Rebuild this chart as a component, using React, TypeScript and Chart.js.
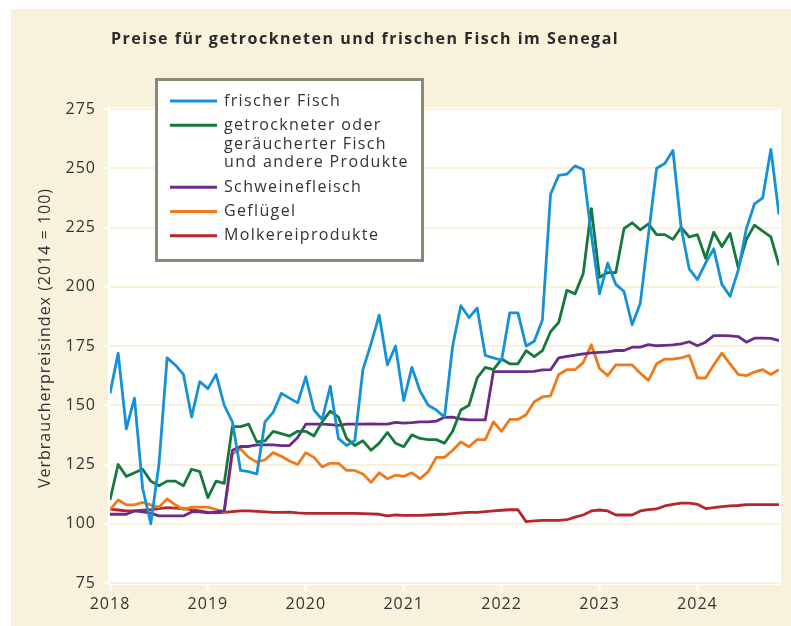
import { useEffect, useRef } from "react";
import { Chart, registerables } from "chart.js";

Chart.register(...registerables);

const TITLE = "Preise für getrockneten und frischen Fisch im Senegal";
const Y_AXIS_TITLE = "Verbraucherpreisindex (2014 = 100)";
const YEAR_LABELS = ["2018", "2019", "2020", "2021", "2022", "2023", "2024"];
const Y_TICKS = [75, 100, 125, 150, 175, 200, 225, 250, 275];

const SERIES_LEGEND_LINES = [
  ["frischer Fisch"],
  ["getrockneter oder", "geräucherter Fisch", "und andere Produkte"],
  ["Schweinefleisch"],
  ["Geflügel"],
  ["Molkereiprodukte"],
];
const SERIES_COLORS = ["#1591d5", "#15793c", "#6b2b8b", "#ef7a1b", "#b6262c"];

// monthly, Jan 2018 – Nov 2024
const FRESH_FISH = [
  155, 172, 140, 153, 115, 100, 125, 170, 167, 163, 145, 160,
  157, 163, 150, 143, 122.5, 122, 121, 143, 147, 155, 153, 151,
  162, 148, 144, 158, 136, 133, 135, 165, 176, 188, 167, 175,
  152, 166, 156, 150, 148, 145, 175, 192, 187, 191, 171, 170,
  169, 189, 189, 175, 177, 186, 239, 247, 247.5, 251, 249.5, 222,
  197, 210, 201, 198, 184, 193, 222, 250, 252, 257.5, 225, 207.5,
  203, 210, 216, 201, 196, 207, 224.5, 235, 237.5, 258, 230.5,
];
const DRIED_FISH = [
  110, 125, 120, 121.5, 123, 118, 116, 118, 118, 116, 123, 122,
  111, 118, 117, 141, 141, 142, 134.5, 135, 139, 138, 137, 139,
  139, 137, 143, 147.5, 145, 136, 133, 135, 131, 134, 138.5, 134,
  132.5, 137.5, 136, 135.5, 135.5, 134, 139, 148, 150, 161.5, 166, 165,
  169.5, 167.5, 167.5, 173, 170.5, 173, 181, 185, 198.5, 197, 205.5, 233,
  204, 206, 206, 224.5, 227, 224, 226.5, 222, 222, 220, 225, 221,
  222, 212, 223, 217, 222.5, 208, 220, 226, 223.5, 221, 209,
];
const PORK = [
  104, 104, 104, 105.4, 105, 104.5, 103.3, 103.3, 103.3, 103.3, 105, 105,
  104.6, 105, 105.4, 131, 132.6, 132.6, 133.3, 133.3, 133.3, 133, 133, 136.4,
  142, 142, 142, 141.8, 141.5, 142, 142, 142, 142.1, 142, 142, 142.8,
  142.5, 142.7, 143, 143, 143.3, 144.9, 145, 144.2, 143.8, 143.8, 143.8, 164.2,
  164.2, 164.2, 164.2, 164.2, 164.3, 164.9, 165, 170, 170.6, 171.1, 171.7, 172.1,
  172.3, 172.5, 173.1, 173.1, 174.5, 174.5, 175.6, 175.1, 175.3, 175.5, 175.9, 176.8,
  175.1, 176.6, 179.4, 179.4, 179.3, 179, 176.6, 178.3, 178.3, 178.2, 177.3,
];
const POULTRY = [
  106, 110, 108, 108, 109, 108, 107, 110.5, 108, 106, 107, 107,
  107, 106, 105, 129.5, 131.5, 128, 126, 127, 130, 128.5, 126.5, 125,
  130, 128, 124, 125.5, 125.5, 122.5, 122.5, 121, 117.5, 121.5, 119, 120.5,
  120, 121.5, 119, 122, 128, 128, 131, 134.5, 132.5, 135.5, 135.5, 143,
  139, 144, 144, 146, 151.5, 153.5, 154, 163, 165, 165, 168, 175.5,
  165.5, 162.5, 167, 167, 167, 163.5, 160.5, 167.5, 169.5, 169.5, 170, 171,
  161.5, 161.5, 167, 172, 167.5, 163, 162.5, 164, 165, 163, 165,
];
const DAIRY = [
  106.2, 105.8, 105.4, 105.4, 105.7, 106, 106.4, 106.8, 106.6, 106.4, 106, 105.4,
  104.8, 104.6, 104.8, 105.1, 105.4, 105.4, 105.2, 105, 104.8, 104.8, 104.9, 104.6,
  104.4, 104.4, 104.4, 104.4, 104.4, 104.4, 104.4, 104.3, 104.2, 104, 103.3, 103.7,
  103.5, 103.5, 103.5, 103.7, 103.9, 104, 104.3, 104.6, 104.8, 104.8, 105.1, 105.4,
  105.7, 105.9, 105.9, 100.9, 101.2, 101.4, 101.4, 101.4, 101.7, 102.8, 103.7, 105.4,
  105.8, 105.4, 103.7, 103.7, 103.7, 105.4, 106, 106.3, 107.5, 108.2, 108.7, 108.7,
  108.2, 106.4, 106.8, 107.2, 107.5, 107.7, 108.1, 108.1, 108.1, 108.1, 108.1,
];
const SERIES_VALUES = [FRESH_FISH, DRIED_FISH, PORK, POULTRY, DAIRY];

const CREAM = "#f8f2dd";
const TEXT = "#333333";
const FONT = "'Open Sans', 'Noto Sans', sans-serif";

const decorPlugin = {
  id: "decor",
  beforeDraw(chart: any) {
    const ctx = chart.ctx;
    const a = chart.chartArea;
    ctx.save();
    ctx.fillStyle = "#ffffff";
    ctx.fillRect(0, 0, chart.width, chart.height);
    ctx.fillStyle = CREAM;
    ctx.fillRect(11, 9, chart.width - 11, chart.height - 9);
    ctx.fillStyle = "#ffffff";
    ctx.fillRect(a.left - 2, a.top - 2, a.right - a.left + 4, a.bottom - a.top + 4);
    ctx.restore();
    ctx.letterSpacing = "1px";
  },
  afterDraw(chart: any) {
    const ctx = chart.ctx;
    const a = chart.chartArea;
    ctx.save();
    // title
    ctx.fillStyle = "#2a2a2a";
    ctx.font = `bold 16px ${FONT}`;
    ctx.letterSpacing = "1.5px";
    ctx.textAlign = "left";
    ctx.textBaseline = "middle";
    ctx.fillText(TITLE, 111, 39);
    // y axis title
    ctx.save();
    ctx.translate(45, (a.top + a.bottom) / 2 - 8);
    ctx.rotate(-Math.PI / 2);
    ctx.font = `16px ${FONT}`;
    ctx.letterSpacing = "1px";
    ctx.fillStyle = TEXT;
    ctx.textAlign = "center";
    ctx.fillText(Y_AXIS_TITLE, 0, 0);
    ctx.restore();
    // legend
    const bx = 155, by = 78, bw = 269, bh = 184;
    ctx.fillStyle = "#ffffff";
    ctx.fillRect(bx, by, bw, bh);
    ctx.strokeStyle = "#8c8973";
    ctx.lineWidth = 3;
    ctx.strokeRect(bx + 1.5, by + 1.5, bw - 3, bh - 3);
    ctx.font = `16px ${FONT}`;
    ctx.letterSpacing = "1.35px";
    ctx.textAlign = "left";
    ctx.textBaseline = "middle";
    let y = 101;
    chart.data.datasets.forEach((ds: any, i: number) => {
      ctx.strokeStyle = ds.borderColor;
      ctx.lineWidth = 3;
      ctx.beginPath();
      ctx.moveTo(170, y);
      ctx.lineTo(217, y);
      ctx.stroke();
      ctx.fillStyle = TEXT;
      const lines = SERIES_LEGEND_LINES[i];
      lines.forEach((ln, j) => ctx.fillText(ln, 224, y + j * 18.8));
      y += (lines.length - 1) * 18.8 + 24.3;
    });
    ctx.restore();
  },
};

export default function App() {
  const ref = useRef<HTMLCanvasElement | null>(null);
  useEffect(() => {
    if (!ref.current) return;
    const chart = new Chart(ref.current, {
      type: "line",
      data: {
        datasets: SERIES_VALUES.map((vals, i) => ({
          label: SERIES_LEGEND_LINES[i].join(" "),
          data: vals.map((v, k) => ({ x: k, y: v })),
          borderColor: SERIES_COLORS[i],
          backgroundColor: SERIES_COLORS[i],
          borderWidth: 2.8,
          pointRadius: 0,
          tension: 0,
          borderJoinStyle: "round" as const,
        })),
      },
      options: {
        animation: false,
        responsive: false,
        devicePixelRatio: 1,
        layout: { padding: { left: 0, top: 109, right: 12, bottom: 0 } },
        plugins: { legend: { display: false }, tooltip: { enabled: false }, title: { display: false } },
        scales: {
          x: {
            type: "linear",
            min: 0,
            max: 82,
            afterFit: (s: any) => { s.height = 43; },
            afterBuildTicks: (s: any) => {
              s.ticks = YEAR_LABELS.map((_, i) => ({ value: i * 12 }));
            },
            ticks: {
              color: TEXT,
              font: { family: FONT, size: 16 },
              padding: 4,
              maxRotation: 0,
              autoSkip: false,
              callback: (_v: any, i: number) => YEAR_LABELS[i],
            },
            grid: { drawOnChartArea: false, tickLength: 8, tickColor: "#ffffff", tickWidth: 2 },
            border: { display: false },
          },
          y: {
            min: 75,
            max: 275,
            afterFit: (s: any) => { s.width = 110; },
            afterBuildTicks: (s: any) => {
              s.ticks = Y_TICKS.map((v) => ({ value: v }));
            },
            ticks: { color: TEXT, font: { family: FONT, size: 16 }, padding: 7 },
            grid: { color: CREAM, lineWidth: 2, tickLength: 7, tickColor: "#ffffff", tickWidth: 2 },
            border: { display: false },
          },
        },
      },
      plugins: [decorPlugin],
    });
    return () => chart.destroy();
  }, []);
  return (
    <div style={{ position: "fixed", left: 0, top: 0, width: 791, height: 626 }}>
      <canvas ref={ref} width={791} height={626} style={{ display: "block" }} />
    </div>
  );
}
